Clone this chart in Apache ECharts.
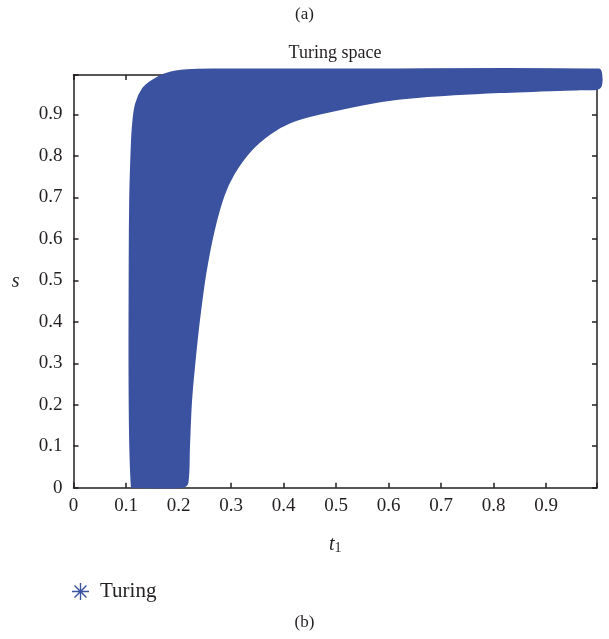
<!DOCTYPE html>
<html>
<head>
<meta charset="utf-8">
<script src="https://cdn.jsdelivr.net/npm/echarts@6/dist/echarts.min.js"></script>
<style>
  html, body { margin: 0; padding: 0; background: #fff; }
  #chart { width: 609px; height: 639px; }
</style>
</head>
<body>
<div id="chart"></div>
<script>
// boundary of the Turing region, counter-clockwise from bottom left
var regionT = [0.112, 0.108, 0.108, 0.109, 0.111, 0.114, 0.120, 0.133, 0.152, 0.178, 0.216, 0.273, 0.5, 1.0,
  1.004, 1.004, 0.998, 0.965, 0.812, 0.66, 0.584, 0.469, 0.412, 0.374, 0.336, 0.304, 0.285, 0.266,
  0.250, 0.238, 0.230, 0.223, 0.219, 0.216, 0.208, 0.118]
var regionS = [0.004, 0.2, 0.55, 0.70, 0.79, 0.87, 0.925, 0.961, 0.981, 0.997, 1.005, 1.007, 1.007, 1.007,
  0.998, 0.972, 0.963, 0.962, 0.955, 0.944, 0.933, 0.903, 0.882, 0.855, 0.813, 0.757, 0.705, 0.62,
  0.516, 0.404, 0.31, 0.211, 0.1, 0.012, 0.003, 0.003]
var tickValues = [0, 0.1, 0.2, 0.3, 0.4, 0.5, 0.6, 0.7, 0.8, 0.9]

var regionData = regionT.map(function (t, i) { return [t, regionS[i]] })
var serif = '"Liberation Serif", "DejaVu Serif", serif'
var ink = '#231f20'
var blue = '#3a52a0'

var chart = echarts.init(document.getElementById('chart'))

function tickLabel(v) {
  var r = Math.round(v * 10) / 10
  return tickValues.indexOf(r) !== -1 && v < 0.95 ? String(r) : ''
}

var frameAxis = {
  axisLine: { show: true, onZero: false, lineStyle: { color: ink, width: 1.5 } },
  axisTick: { show: true, inside: true, length: 5, lineStyle: { color: ink, width: 1.5 } },
  splitLine: { show: false }
}

var option = {
  animation: false,
  color: [blue],
  textStyle: { fontFamily: serif },
  grid: { left: 73.5, right: 12, top: 75, bottom: 151.3 },
  legend: {
    left: 67,
    top: 576,
    itemWidth: 17,
    itemHeight: 17,
    itemGap: 10,
    textStyle: { fontFamily: serif, fontSize: 21, color: ink, padding: [0, 0, 0, 6] },
    data: [{
      name: 'Turing',
      icon: 'path://M9.2,0 L10.8,0 L10.8,20 L9.2,20 Z M0,9.2 L20,9.2 L20,10.8 L0,10.8 Z M2.43,3.57 L3.57,2.43 L17.57,16.43 L16.43,17.57 Z M16.43,2.43 L17.57,3.57 L3.57,17.57 L2.43,16.43 Z'
    }]
  },
  graphic: [
    { type: 'text', left: 'center', top: 6, style: { text: '(a)', font: '17px ' + serif, fill: ink } },
    { type: 'text', x: 335, y: 44, style: { text: 'Turing space', font: '18px ' + serif, fill: ink, align: 'center' } },
    { type: 'text', left: 'center', top: 614, style: { text: '(b)', font: '17px ' + serif, fill: ink } }
  ],
  xAxis: [
    Object.assign({}, frameAxis, {
      type: 'value', min: 0, max: 0.997, interval: 0.1,
      name: '{t|t}{sub|1}', nameLocation: 'middle', nameGap: 46,
      nameTextStyle: {
        rich: {
          t: { fontFamily: serif, fontStyle: 'italic', fontSize: 20, color: ink },
          sub: { fontFamily: serif, fontSize: 14, color: ink, verticalAlign: 'bottom', padding: [8, 0, 0, 0] }
        }
      },
      axisLabel: { margin: 9, fontFamily: serif, fontSize: 19, color: ink, formatter: tickLabel }
    }),
    Object.assign({}, frameAxis, {
      type: 'value', position: 'top', min: 0, max: 0.997, interval: 0.1,
      axisLabel: { show: false }
    })
  ],
  yAxis: [
    Object.assign({}, frameAxis, {
      type: 'value', min: 0, max: 0.995, interval: 0.1,
      name: 's', nameLocation: 'middle', nameGap: 54, nameRotate: 0,
      nameTextStyle: { fontFamily: serif, fontStyle: 'italic', fontSize: 20, color: ink },
      axisLabel: { margin: 11, fontFamily: serif, fontSize: 19, color: ink, formatter: tickLabel }
    }),
    Object.assign({}, frameAxis, {
      type: 'value', position: 'right', min: 0, max: 0.995, interval: 0.1,
      axisLabel: { show: false }
    })
  ],
  series: [
    {
      name: 'Turing',
      type: 'custom',
      clip: false,
      z: 5,
      itemStyle: { color: blue },
      data: [0],
      renderItem: function (params, api) {
        var pts = regionData.map(function (d) { return api.coord(d) })
        return {
          type: 'polygon',
          shape: { points: pts, smooth: 0.35 },
          style: { fill: blue, stroke: blue, lineWidth: 3, lineJoin: 'round' }
        }
      }
    }
  ]
}
chart.setOption(option)
</script>
</body>
</html>
